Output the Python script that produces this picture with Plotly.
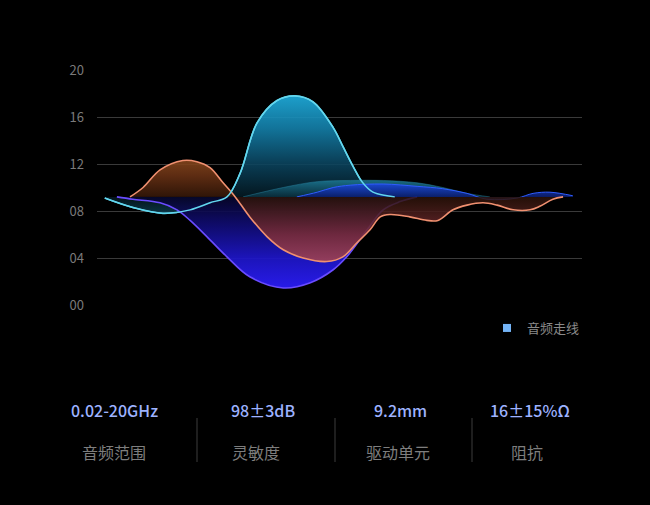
import plotly.graph_objects as go

# ---- data ----
baseline_level = 9.2
y_ticks = [0, 4, 8, 12, 16, 20]
y_tick_labels = ["00", "04", "08", "12", "16", "20"]

cyan_x = [1.6, 7.4, 13.6, 19.2, 23.3, 26.8, 29.5, 33.0, 37.1, 40.8, 44.5, 48.7, 50.7, 52.8, 54.8, 56.9, 59.8, 61.4]
cyan_y = [9.1, 8.3, 7.8, 8.1, 8.7, 9.2, 11.2, 15.5, 17.4, 17.8, 17.3, 15.1, 13.5, 11.8, 10.4, 9.6, 9.3, 9.2]

teal_x = [30.1, 38.4, 45.4, 52.2, 59.0, 66.0, 71.3, 76.3, 81.0]
teal_y = [9.2, 10.0, 10.5, 10.6, 10.6, 10.4, 10.0, 9.5, 9.2]

bluehi_x = [41.2, 45.4, 48.7, 52.2, 59.0, 66.0, 71.3, 76.3, 80.4, 86.6, 89.9, 93.4, 98.1]
bluehi_y = [9.2, 9.6, 10.0, 10.2, 10.3, 10.1, 9.9, 9.5, 9.0, 9.1, 9.5, 9.6, 9.3]

bluelo_x = [4.1, 7.4, 13.0, 16.5, 19.2, 22.7, 26.8, 31.5, 38.4, 44.0, 48.7, 51.5, 55.7, 59.0, 62.5, 66.0]
bluelo_y = [9.2, 9.0, 8.7, 8.1, 7.2, 5.8, 4.1, 2.4, 1.45, 1.9, 3.0, 4.1, 6.4, 8.1, 8.8, 9.2]

orange_x = [6.8, 9.5, 13.0, 17.7, 20.6, 23.3, 26.0, 28.5, 31.5, 35.1, 38.4, 42.5, 47.4, 50.7, 53.6, 56.3,
            58.4, 60.4, 64.5, 68.0, 70.3, 73.4, 76.3, 79.6, 82.5, 85.8, 89.3, 91.3, 94.0, 96.1]
orange_y = [9.2, 10.0, 11.5, 12.3, 12.2, 11.7, 10.4, 9.2, 7.5, 5.8, 4.7, 4.0, 3.7, 4.1, 5.3, 6.4,
            7.5, 7.7, 7.5, 7.2, 7.2, 8.1, 8.5, 8.7, 8.5, 8.1, 8.1, 8.4, 9.0, 9.2]

legend_name = "音频走线"
stat_values = ["0.02-20GHz", "98±3dB", "9.2mm", "16±15%Ω"]
stat_labels = ["音频范围", "灵敏度", "驱动单元", "阻抗"]

FONT = "Noto Sans CJK SC, Noto Sans, sans-serif"


def cs(stops):
    # stops given as (y value, color) -> colorscale on 0..20
    return [[y / 20.0, c] for y, c in stops]


fig = go.Figure()


def add_area(xs, ys, line_color, stops, width=1.6):
    fig.add_trace(go.Scatter(x=[xs[0], xs[-1]], y=[baseline_level, baseline_level], mode="lines",
                             line=dict(width=0, color="rgba(0,0,0,0)"), showlegend=False, hoverinfo="skip"))
    fig.add_trace(go.Scatter(x=xs, y=ys, mode="lines", fill="tonexty",
                             line=dict(shape="spline", smoothing=1.0, color=line_color, width=width),
                             fillgradient=dict(type="vertical", colorscale=cs(stops), start=0, stop=20),
                             showlegend=False, hoverinfo="skip"))


add_area(cyan_x, cyan_y, "#62d6ee",
         [(0, "rgba(10,44,58,0.9)"), (7.8, "rgba(11,58,76,0.9)"), (9.2, "rgba(4,21,28,0.9)"),
          (9.3, "rgba(4,26,36,0.9)"), (12, "rgba(11,69,96,0.88)"),
          (15, "rgba(20,128,170,0.9)"), (18, "rgba(32,176,224,0.92)"), (20, "rgba(32,176,224,0.92)")])
add_area(teal_x, teal_y, "rgba(40,130,160,0.6)",
         [(0, "rgba(12,58,76,0.9)"), (9.2, "rgba(10,46,60,0.9)"), (10.7, "rgba(28,122,150,0.9)"),
          (20, "rgba(28,122,150,0.9)")], width=0.8)
add_area(bluelo_x, bluelo_y, "#6a4cff",
         [(0, "rgba(42,28,244,0.95)"), (1.5, "rgba(42,28,244,0.95)"), (4, "rgba(30,22,200,0.93)"),
          (7, "rgba(16,12,112,0.9)"), (9.2, "rgba(6,6,42,0.9)"), (20, "rgba(6,6,42,0.9)")])
add_area(bluehi_x, bluehi_y, "#2f5cff",
         [(0, "rgba(11,26,96,0.9)"), (9.2, "rgba(11,30,112,0.9)"), (10.4, "rgba(28,74,224,0.92)"),
          (20, "rgba(28,74,224,0.92)")], width=1.0)
add_area(orange_x, orange_y, "#f09070",
         [(0, "rgba(160,66,82,0.9)"), (3.7, "rgba(160,66,82,0.9)"), (6, "rgba(122,44,54,0.88)"),
          (8.5, "rgba(58,24,18,0.85)"), (9.2, "rgba(42,18,8,0.85)"),
          (9.3, "rgba(58,26,10,0.85)"), (11, "rgba(106,50,20,0.88)"), (12.5, "rgba(138,74,30,0.9)"),
          (20, "rgba(138,74,30,0.9)")])

# cyan outline redrawn on top so it stays visible over the later fills
fig.add_trace(go.Scatter(x=cyan_x, y=cyan_y, mode="lines",
                         line=dict(shape="spline", smoothing=1.0, color="#62d6ee", width=1.4),
                         showlegend=False, hoverinfo="skip"))

# legend-only marker
fig.add_trace(go.Scatter(x=[None], y=[None], mode="markers", name=legend_name,
                         marker=dict(symbol="square", size=8, color="#74b4f6")))

X0, PW = 97.0, 485.0
Y0, PH = 305.0, 235.0


def px_x(p):
    return (p - X0) / PW


def px_y(p):
    return (Y0 - p) / PH


stat_x = [114, 263, 400, 530]
label_x = [114, 256, 398, 527]
annotations = []
for i in range(4):
    annotations.append(dict(x=px_x(stat_x[i]), y=px_y(410), xref="paper", yref="paper", text=stat_values[i],
                            xanchor="center", yanchor="middle", showarrow=False,
                            font=dict(family=FONT, size=16, color="#9db2ff", weight=500)))
    annotations.append(dict(x=px_x(label_x[i]), y=px_y(452), xref="paper", yref="paper", text=stat_labels[i],
                            xanchor="center", yanchor="middle", showarrow=False,
                            font=dict(family=FONT, size=16, color="#7e7e7e")))

shapes = []
for sx in [197, 335, 472]:
    shapes.append(dict(type="line", xref="paper", yref="paper", x0=px_x(sx), x1=px_x(sx),
                       y0=px_y(418), y1=px_y(462), line=dict(color="#3c3c3c", width=1)))

fig.update_layout(
    width=650, height=505,
    paper_bgcolor="#000000", plot_bgcolor="#000000",
    margin=dict(l=97, r=68, t=70, b=200),
    font=dict(family=FONT, color="#8a8a8a"),
    xaxis=dict(range=[0, 100], showgrid=False, zeroline=False, showticklabels=False, fixedrange=True),
    yaxis=dict(range=[0, 20], tickvals=y_ticks, ticktext=y_tick_labels, showgrid=True,
               gridcolor="#3a3a3a", gridwidth=1, zeroline=False, ticks="", ticklabelstandoff=12,
               tickfont=dict(family=FONT, size=13, color="#7a7a7a")),
    showlegend=True,
    legend=dict(x=px_x(487), y=px_y(328), xanchor="left", yanchor="middle", bgcolor="rgba(0,0,0,0)",
                font=dict(family=FONT, size=13, color="#8a8a8a"), itemwidth=30),
    annotations=annotations,
    shapes=shapes,
)

fig.write_html("out.html", default_width="650px", default_height="505px",
               config={"displayModeBar": False},
               post_script="document.body.style.margin='0';document.body.style.background='#000';")
